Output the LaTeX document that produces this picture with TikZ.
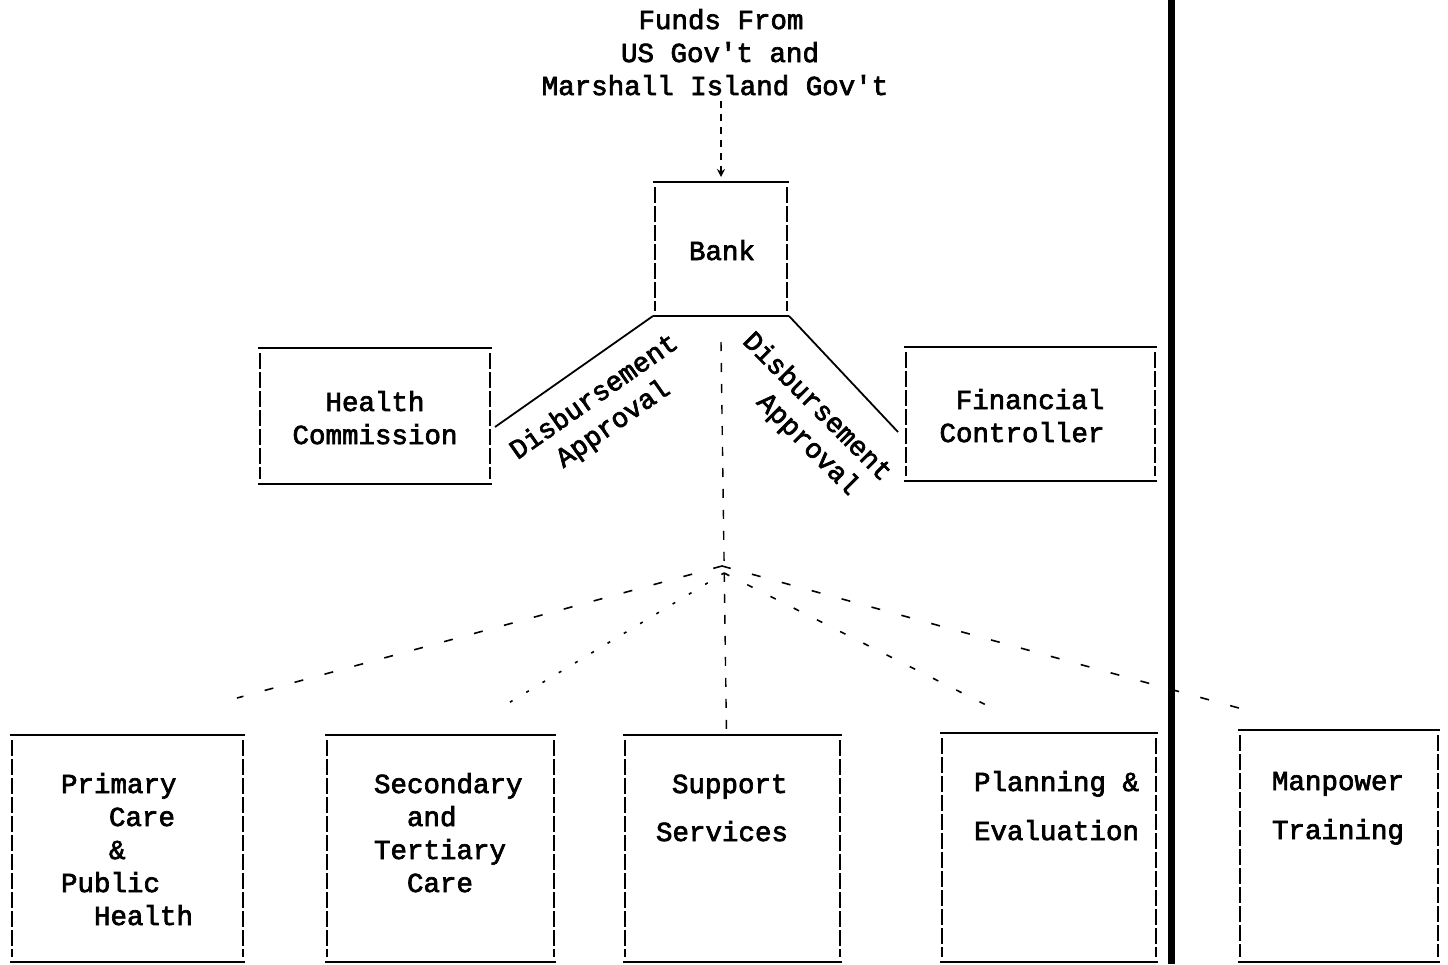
\documentclass[tikz,border=0pt]{standalone}
\usepackage{fontspec}
\newfontfamily\tw{Liberation Mono}[FakeBold=2.5]
\usetikzlibrary{arrows.meta}
\tikzset{
  every node/.style={font=\tw\fontsize{27.5}{33}\selectfont, inner sep=0pt, outer sep=0pt},
  boxnode/.style={minimum width=#1, draw=none},
  edgeline/.style={line width=2.6pt},
  sideline/.style={line width=1.2pt, dash pattern=on 16pt off 3pt},
  link/.style={line width=1.8pt},
  funnel/.style={line width=1.6pt, dash pattern=on 9pt off 22pt},
  funneldot/.style={line width=1.6pt, dash pattern=on 3pt off 16pt},
  vdash/.style={line width=1.4pt, dash pattern=on 9pt off 12pt},
  lbl/.style={anchor=base west},
  ctr/.style={anchor=base}
}
\begin{document}
\begin{tikzpicture}[x=1pt,y=-1pt]
\useasboundingbox (0,0) rectangle (1448,964);
\fill[white] (0,0) rectangle (1448,964);

% title
\node[ctr] (t1) at (721,29) {Funds From};
\node[ctr] (t2) at (720,62) {US Gov't and};
\node[ctr] (t3) at (715,95) {Marshall Island Gov't};

% boxes
\node[boxnode=136pt, minimum height=134pt] (bank) at (721,249) {};
\node[boxnode=234pt, minimum height=136pt] (hc) at (375,416) {};
\node[boxnode=253pt, minimum height=134pt] (fc) at (1030.5,414) {};
\node[boxnode=235pt, minimum height=227pt] (pc) at (127.5,848.5) {};
\node[boxnode=231pt, minimum height=227pt] (sc) at (440.5,848.5) {};
\node[boxnode=219pt, minimum height=227pt] (ss) at (732.5,848.5) {};
\node[boxnode=218pt, minimum height=229pt] (pe) at (1049,847.5) {};
\node[boxnode=202pt, minimum height=232pt] (mt) at (1339,846) {};

\foreach \n in {bank,hc,fc,pc,sc,ss,pe,mt}{
  \draw[edgeline] (\n.north west) -- (\n.north east) (\n.south west) -- (\n.south east);
  \draw[sideline] ([xshift=2pt,yshift=-5pt]\n.north west) -- ([xshift=2pt,yshift=5pt]\n.south west)
                  ([xshift=-2pt,yshift=-5pt]\n.north east) -- ([xshift=-2pt,yshift=5pt]\n.south east);
}

% box texts
\node[ctr] (bankt) at (722,260) {Bank};
\node[ctr] (hct1) at (375,411) {Health};
\node[ctr] (hct2) at (375,444) {Commission};
\node[ctr] (fct1) at (1030,409) {Financial};
\node[ctr] (fct2) at (1022,442) {Controller};

\node[lbl] (pct1) at (61,793) {Primary};
\node[lbl] (pct2) at (109,826) {Care};
\node[lbl] (pct3) at (109,859) {\&};
\node[lbl] (pct4) at (61,892) {Public};
\node[lbl] (pct5) at (94,925) {Health};

\node[lbl] (sct1) at (374,793) {Secondary};
\node[lbl] (sct2) at (407,826) {and};
\node[lbl] (sct3) at (374,859) {Tertiary};
\node[lbl] (sct4) at (407,892) {Care};

\node[lbl] (sst1) at (672,793) {Support};
\node[lbl] (sst2) at (656,841) {Services};

\node[lbl] (pet1) at (974,791) {Planning \&};
\node[lbl] (pet2) at (974,840) {Evaluation};

\node[lbl] (mtt1) at (1272,790) {Manpower};
\node[lbl] (mtt2) at (1272,839) {Training};

% funds arrow
\draw[line width=1.3pt, dash pattern=on 7pt off 6pt, -{Stealth[length=8pt,width=8pt]}]
  ([yshift=-6pt]t3.south -| bank.north) -- ([yshift=5pt]bank.north);

% approval links
\draw[link] (bank.south west) -- ([xshift=3pt,yshift=-11pt]hc.east);
\draw[link] (bank.south east) -- ([xshift=-6pt,yshift=-18pt]fc.west);

\node[rotate=35, align=center] (dal) at (604,411) {Disbursement\\Approval};
\node[rotate=-45, align=center] (dar) at (805,419) {Disbursement\\\hspace*{40pt}Approval};

% vertical dashed line to support services
\draw[vdash] ([yshift=-26pt]bank.south) -- ([xshift=-6pt]ss.north);

% fan of dashed lines
\coordinate (hub) at (722,566);
\coordinate (hubb) at (724,573);
\coordinate (e1) at (237,698);
\coordinate (e2) at (497,710);
\coordinate (e3) at (1000,712);
\coordinate (e4) at (1257,713);
\draw[funnel] (hub) -- (e1);
\draw[funneldot] (hubb) -- (e2);
\draw[funneldot, dash pattern=on 6pt off 20pt] (hubb) -- (e3);
\draw[funnel] (hub) -- (e4);

% separator bar
\draw[line width=7pt] (1171,0) -- (1171,964);
\end{tikzpicture}
\end{document}
